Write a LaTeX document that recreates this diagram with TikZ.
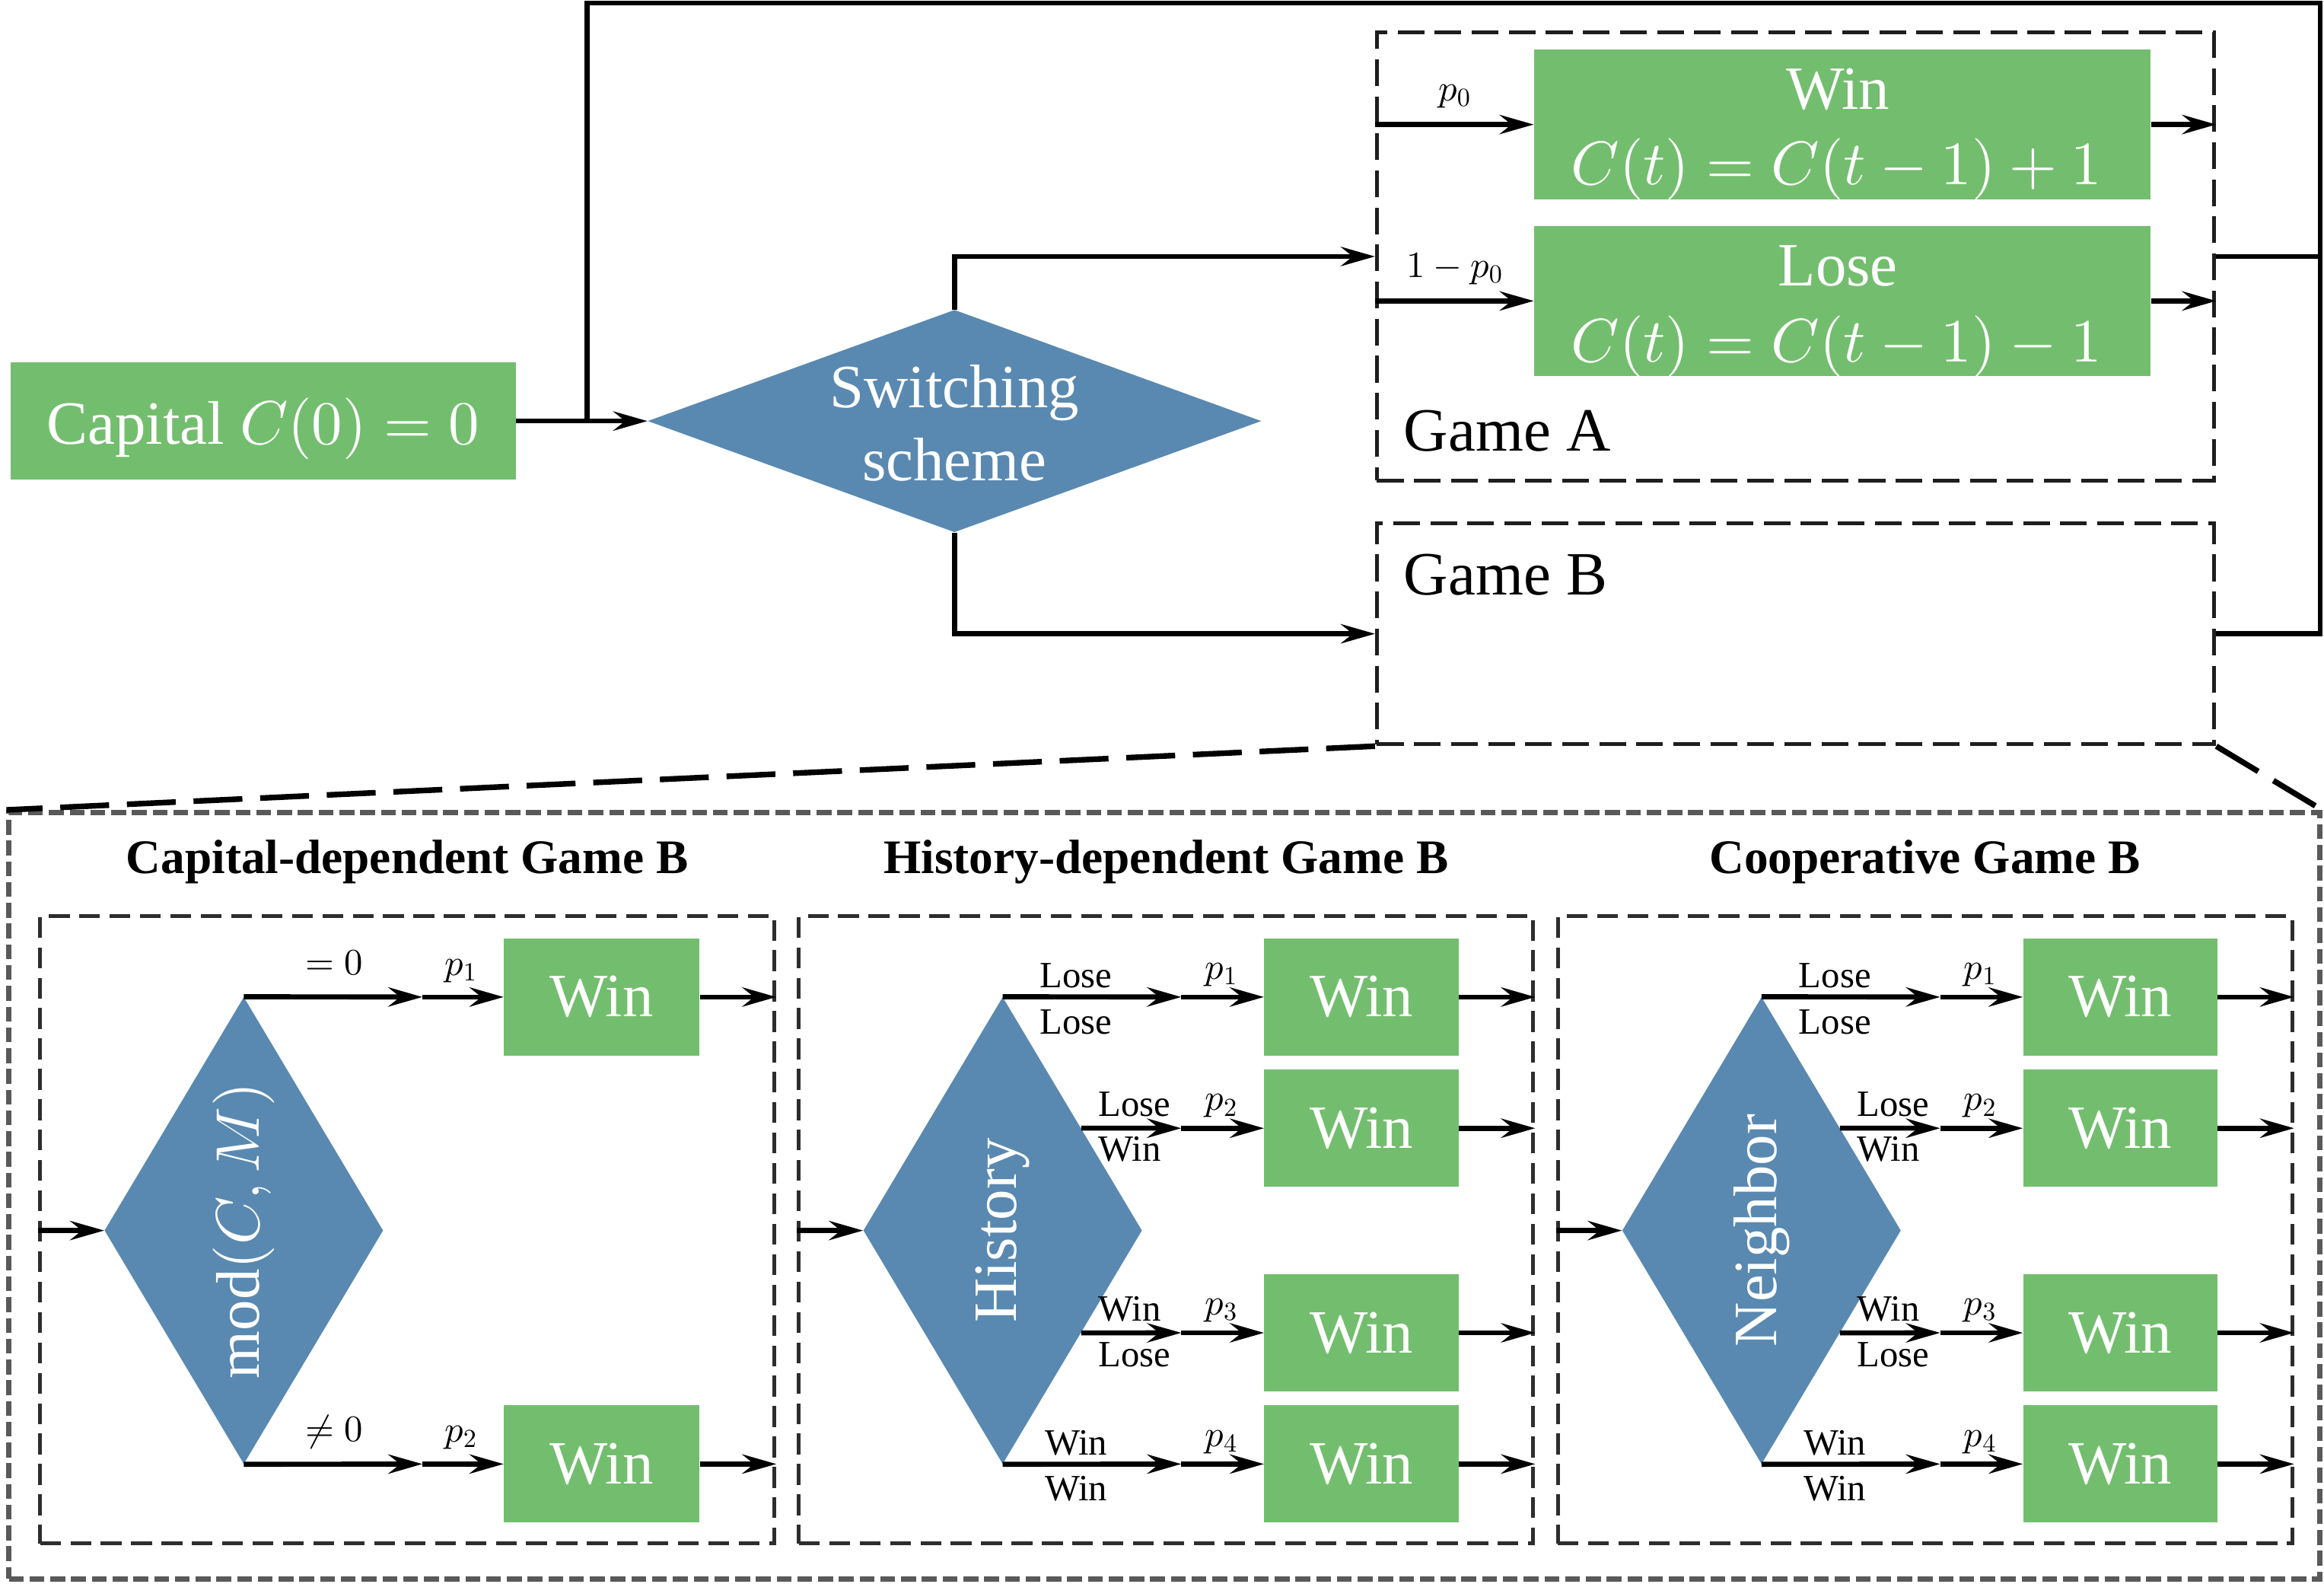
\documentclass[tikz,border=0pt]{standalone}
\usepackage{fontspec}
\setmainfont{Liberation Serif}
\DeclareFontShape{OML}{cmm}{m}{it}{<->cmmi10}{}
\DeclareFontShape{OMS}{cmsy}{m}{n}{<->cmsy10}{}
\DeclareFontShape{OMX}{cmex}{m}{n}{<->cmex10}{}
\DeclareFontShape{OT1}{cmr}{m}{n}{<->cmr10}{}
\usetikzlibrary{arrows.meta,shapes.geometric,calc}
\definecolor{gboxc}{RGB}{115,190,110}
\definecolor{bdia}{RGB}{89,137,177}
\definecolor{dashdark}{RGB}{30,30,30}
\definecolor{dashmid}{RGB}{45,45,45}
\definecolor{dashgray}{RGB}{89,89,89}
\begin{document}
\begin{tikzpicture}[x=1pt,y=-1pt,
  line/.style={line width=3.4pt, draw=black},
  arr/.style={line, -{Stealth[length=23pt,width=13pt,inset=8pt]}},
  gbox/.style={rectangle, fill=gboxc, draw=none, inner sep=0pt},
  dia/.style={diamond, fill=bdia, draw=none, inner sep=0pt},
  wt/.style={text=white},
  big/.style={inner sep=0pt, font=\fontsize{41.5}{49}\selectfont},
  mid/.style={inner sep=0pt, font=\fontsize{25}{30}\selectfont},
  ttl/.style={inner sep=0pt, font=\fontsize{32.5}{38}\selectfont\bfseries},
  gamebox/.style={rectangle, draw=dashdark, line width=2.6pt, dash pattern=on 18pt off 7pt, inner sep=0pt},
  panel/.style={rectangle, draw=dashmid, line width=2.6pt, dash pattern=on 14pt off 6.5pt, inner sep=0pt},
  outerbox/.style={rectangle, draw=dashgray, line width=3.4pt, dash pattern=on 10pt off 4pt, inner sep=0pt},
  zoomline/.style={draw=black, line width=3.8pt, dash pattern=on 33pt off 12pt},
]
\useasboundingbox (0,0) rectangle (1568,1068);

% ---------- top part ----------
\node[gbox, minimum width=341pt, minimum height=79pt] (cap) at (177.5,284) {};
\node[big, wt, anchor=base] (capt) at (177.5,299.6) {Capital $C(0)=0$};

\node[dia, minimum width=414pt, minimum height=150pt] (sw) at (644,284) {};
\node[big, wt, anchor=base] (swt1) at (644,275) {Switching};
\node[big, wt, anchor=base] (swt2) at (644,324) {scheme};

\node[gamebox, minimum width=565pt, minimum height=302pt] (gA) at (1211.5,173) {};
\node[gamebox, minimum width=565pt, minimum height=149pt] (gB) at (1211.5,427.5) {};
\node[big, anchor=base west] (gAt) at (947,304) {Game A};
\node[big, anchor=base west] (gBt) at (947,401) {Game B};

\node[gbox, minimum width=416pt, minimum height=101pt] (wA) at (1243,84) {};
\node[gbox, minimum width=416pt, minimum height=101pt] (lA) at (1243,203) {};
\node[big, wt, anchor=base] (wAt1) at (1240,73.7) {Win};
\node[big, wt, anchor=base] (wAt2) at (1239,124.5) {$C(t)=C(t-1)+1$};
\node[big, wt, anchor=base] (lAt1) at (1240,193) {Lose};
\node[big, wt, anchor=base] (lAt2) at (1239,244) {$C(t)=C(t-1)-1$};

\node[mid, anchor=base] (p0l) at (981.5,68) {$p_0$};
\node[mid, anchor=base] (q0l) at (981.5,187) {$1-p_0$};

\coordinate (j1) at (396,284);
\coordinate (tl) at (396,2);
\coordinate (tr) at (1565.5,2);

\draw[arr] (cap.east) -- (sw.west);
\draw[line] (gB.east) -| (tr) -- (tl) -- (j1);
\draw[line] (gA.east) -- (gA.east -| tr);
\draw[arr] (sw.north) |- (gA.west);
\draw[arr] (sw.south) |- (gB.west);
\draw[arr] (wA.west -| gA.west) -- (wA.west);
\draw[arr] (lA.west -| gA.west) -- (lA.west);
\draw[arr] (wA.east) -- (wA.east -| gA.east);
\draw[arr] (lA.east) -- (lA.east -| gA.east);

% ---------- zoom-in ----------
\node[outerbox, minimum width=1559pt, minimum height=517pt] (ob) at (785.5,806.5) {};
\draw[zoomline] (gB.south west) -- (ob.north west);
\draw[zoomline] (gB.south east) -- (ob.north east);

% ---------- panel 1 ----------
\node[panel, minimum width=495.5pt, minimum height=423pt] (pn1) at (274.75,829.5) {};
\node[ttl, anchor=base] (tt1) at (274.75,589) {Capital-dependent Game B};
\node[dia, minimum width=188pt, minimum height=315pt] (d1) at (164.5,830) {};
\node[big, wt, rotate=90] (dt1) at (d1) {$\mathrm{mod}(C,M)$};
\draw[arr] (d1.west -| pn1.west) -- (d1.west);
\node[gbox, minimum width=132pt, minimum height=79pt] (w11) at (406,672.5) {\fontsize{41.5}{49}\selectfont\color{white}Win};
\node[gbox, minimum width=132pt, minimum height=79pt] (w12) at (406,987.5) {\fontsize{41.5}{49}\selectfont\color{white}Win};
\coordinate (m11) at (285,672.5);
\coordinate (m12) at (285,987.5);
\draw[arr] (d1.north) -- (m11);
\draw[arr] (m11) -- (w11.west);
\draw[arr] (d1.south) -- (m12);
\draw[arr] (m12) -- (w12.west);
\draw[arr] (w11.east) -- (w11.east -| pn1.east);
\draw[arr] (w12.east) -- (w12.east -| pn1.east);
\node[mid, anchor=base] (l11) at (225.6,657.5) {$=0$};
\node[mid, anchor=base] (l12) at (225.6,972) {$\neq 0$};
\node[mid, anchor=base] (p11) at (311,658) {$p_1$};
\node[mid, anchor=base] (p12) at (311,972.5) {$p_2$};

% ---------- panels 2 and 3 ----------
\foreach \k/\L/\dtext/\ttext in {2/539/History/History-dependent Game B, 3/1051/Neighbor/Cooperative Game B}{
  \node[panel, minimum width=495.5pt, minimum height=423pt] (pn\k) at (\L+247.75,829.5) {};
  \node[ttl, anchor=base] (tt\k) at (\L+247.75,589) {\ttext};
  \node[dia, minimum width=188pt, minimum height=315pt] (d\k) at (\L+137.5,830) {};
  \node[big, wt, rotate=90] (dt\k) at (d\k) {\dtext};
  \draw[arr] (d\k.west -| pn\k.west) -- (d\k.west);
  \coordinate (s\k a) at (d\k.north);
  \coordinate (s\k b) at ($(d\k.north)!0.562!(d\k.east)$);
  \coordinate (s\k c) at ($(d\k.south)!0.562!(d\k.east)$);
  \coordinate (s\k d) at (d\k.south);
  \foreach \b/\yy/\pp in {a/672.5/1, b/761/2, c/899/3, d/987.5/4}{
    \node[gbox, minimum width=131pt, minimum height=79pt] (w\k\b) at (\L+379.5,\yy) {\fontsize{41.5}{49}\selectfont\color{white}Win};
    \coordinate (m\k\b) at (\L+258,\yy);
    \draw[arr] (s\k\b) -- (m\k\b);
    \draw[arr] (m\k\b) -- (w\k\b.west);
    \draw[arr] (w\k\b.east) -- (w\k\b.east -| pn\k.east);
    \node[mid, anchor=base] (p\k\b) at (\L+285,\yy-12) {$p_{\pp}$};
  }
  \node[mid, anchor=base] (la\k a) at (\L+187,666) {Lose};
  \node[mid, anchor=base] (lb\k a) at (\L+187,697.5) {Lose};
  \node[mid, anchor=base west] (la\k b) at (\L+202,753) {Lose};
  \node[mid, anchor=base west] (lb\k b) at (\L+202,783) {Win};
  \node[mid, anchor=base west] (la\k c) at (\L+202,891) {Win};
  \node[mid, anchor=base west] (lb\k c) at (\L+202,922) {Lose};
  \node[mid, anchor=base] (la\k d) at (\L+187,981.5) {Win};
  \node[mid, anchor=base] (lb\k d) at (\L+187,1012) {Win};
}
\end{tikzpicture}
\end{document}
